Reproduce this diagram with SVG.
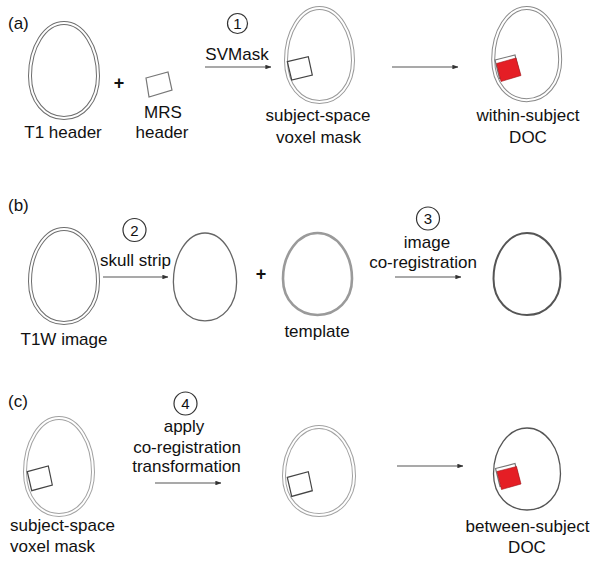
<svg xmlns="http://www.w3.org/2000/svg" xmlns:xlink="http://www.w3.org/1999/xlink" width="601" height="564" viewBox="0 0 601 564">
<style>
text{font-family:"Liberation Sans",Arial,sans-serif;font-size:17px;fill:#111}
.c{text-anchor:middle}
.lbl{font-size:17px}
.num{font-size:15px;text-anchor:middle}
.plus{font-size:18px;font-weight:bold;text-anchor:middle}
.dO{fill:none;stroke-width:4}
.dI{fill:none;stroke:#fff;stroke-width:2}
.conn line{stroke:#555;stroke-width:1.1;marker-end:url(#ah)}
.circ{fill:none;stroke:#333;stroke-width:1.2}
.box{fill:none;stroke-width:1.2}
.red{fill:#e51e25;stroke:#a01015;stroke-width:0.6}
</style>
<defs>
<path id="egg" vector-effect="non-scaling-stroke" d="M0,0 C19,0 34,24 34,53 C34,78 19,95 0,95 C-19,95 -34,78 -34,53 C-34,24 -19,0 0,0 Z"/>
<marker id="ah" viewBox="0 0 8 6" refX="7.5" refY="3" markerWidth="6" markerHeight="4.5" markerUnits="userSpaceOnUse" orient="auto"><path d="M0,0 L8,3 L0,6 Z" fill="#333"/></marker>
</defs>
<rect width="601" height="564" fill="#fff"/>

<!-- panel labels -->
<text x="8" y="29">(a)</text>
<text x="8" y="211">(b)</text>
<text x="8" y="407">(c)</text>

<!-- (a) -->
<g id="a-t1">
<g transform="translate(64,23)"><use xlink:href="#egg" class="dO" stroke="#6e6e6e"/><use xlink:href="#egg" class="dI"/></g>
<text class="c" x="63" y="138">T1 header</text>
</g>
<text class="plus" x="119" y="89">+</text>
<g id="a-mrs">
<polygon class="box" stroke="#777" points="146,78 168,72 172,90 149,97"/>
<text class="c" x="163" y="118">MRS</text>
<text class="c" x="162" y="138">header</text>
</g>
<g id="a-mask">
<g transform="translate(319.5,8) scale(0.985,0.99)"><use xlink:href="#egg" class="dO" stroke="#9a9a9a"/><use xlink:href="#egg" class="dI"/></g>
<polygon class="box" stroke="#444" points="287.3,61.7 308.3,56.7 312.3,75 291.7,80"/>
<text class="c" x="318" y="121">subject-space</text>
<text class="c" x="318.5" y="143">voxel mask</text>
</g>
<g id="a-doc">
<g transform="translate(526.7,8) scale(0.985,0.97)"><use xlink:href="#egg" class="dO" stroke="#8a8a8a"/><use xlink:href="#egg" class="dI"/></g>
<polygon class="box" stroke="#777" points="495,60 515,55 519.5,73 499.5,78.5"/>
<polygon class="red" points="496.5,63.5 516,58 521,75.5 501,81.5"/>
<text class="c" x="528" y="121">within-subject</text>
<text class="c" x="528" y="143">DOC</text>
</g>
<g id="step1">
<circle class="circ" cx="237.5" cy="23.5" r="10"/>
<text class="num" x="237.5" y="29">1</text>
<text class="c" x="237" y="60">SVMask</text>
</g>

<!-- (b) -->
<g id="b-t1w">
<g transform="translate(64,229) scale(1,0.99)"><use xlink:href="#egg" class="dO" stroke="#6e6e6e"/><use xlink:href="#egg" class="dI"/></g>
<text class="c" x="64" y="345">T1W image</text>
</g>
<g id="step2">
<circle class="circ" cx="134.5" cy="230" r="11.5"/>
<text class="num" x="134.5" y="235.5">2</text>
<text class="c" x="135.5" y="266">skull strip</text>
</g>
<g id="b-strip">
<g transform="translate(205,233) scale(0.93,0.925)"><use xlink:href="#egg" fill="none" stroke="#666" stroke-width="1.3"/></g>
</g>
<text class="plus" x="261" y="280">+</text>
<g id="b-template">
<g transform="translate(317.5,233) scale(1.015,0.863)"><use xlink:href="#egg" fill="none" stroke="#9a9a9a" stroke-width="2.6"/></g>
<text class="c" x="317" y="337">template</text>
</g>
<g id="step3">
<circle class="circ" cx="428" cy="218.5" r="11.5"/>
<text class="num" x="428" y="224">3</text>
<text class="c" x="427" y="248">image</text>
<text class="c" x="423" y="268">co-registration</text>
</g>
<g id="b-reg">
<g transform="translate(527,233) scale(0.985,0.863)"><use xlink:href="#egg" fill="none" stroke="#555" stroke-width="2"/></g>
</g>

<!-- (c) -->
<g id="c-mask">
<g transform="translate(59,418) scale(1,1.02)"><use xlink:href="#egg" class="dO" stroke="#a2a2a2"/><use xlink:href="#egg" class="dI"/></g>
<polygon class="box" stroke="#444" points="27.3,471.7 48.3,466 52.3,485 31.7,490.7"/>
<text x="10" y="531">subject-space</text>
<text x="10" y="552">voxel mask</text>
</g>
<g id="step4">
<circle class="circ" cx="185.5" cy="403.5" r="11.5"/>
<text class="num" x="185.5" y="409">4</text>
<text class="c" x="184" y="432">apply</text>
<text class="c" x="187" y="453">co-registration</text>
<text class="c" x="186.5" y="472">transformation</text>
</g>
<g id="c-mask2">
<g transform="translate(319,427) scale(1.03,0.926)"><use xlink:href="#egg" class="dO" stroke="#a2a2a2"/><use xlink:href="#egg" class="dI"/></g>
<polygon class="box" stroke="#444" points="287.3,477.4 308.3,471.7 312.3,490.7 291.7,496.4"/>
</g>
<g id="c-doc">
<g transform="translate(527,428) scale(0.985,0.863)"><use xlink:href="#egg" fill="none" stroke="#555" stroke-width="1.3"/></g>
<polygon class="box" stroke="#777" points="495.5,468.5 515,463.5 519.5,481 500,486.5"/>
<polygon class="red" points="497,471.5 516.5,466.5 521,484 501.5,489.5"/>
<text class="c" x="527.5" y="532">between-subject</text>
<text class="c" x="527" y="553">DOC</text>
</g>

<g id="connectors" class="conn">
<line x1="205" y1="67" x2="271" y2="67"/>
<line x1="392" y1="67" x2="458" y2="67"/>
<line x1="103" y1="277" x2="168" y2="277"/>
<line x1="395" y1="277" x2="461" y2="277"/>
<line x1="155" y1="483" x2="221" y2="483"/>
<line x1="397" y1="466" x2="463" y2="466"/>
</g>
</svg>
